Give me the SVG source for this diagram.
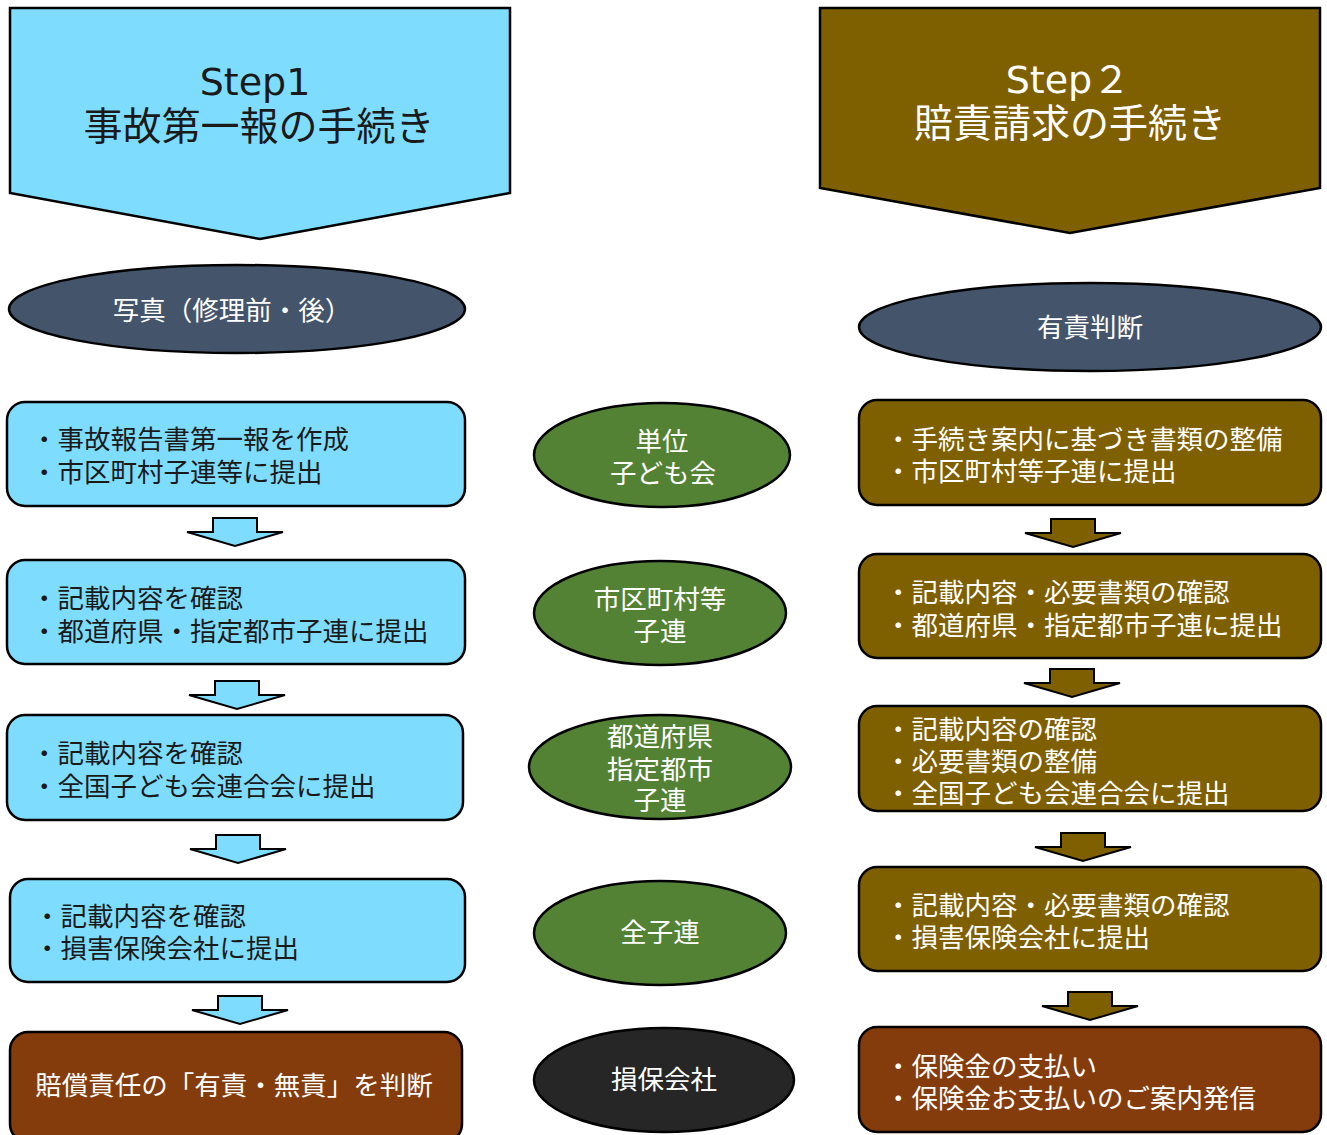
<svg xmlns="http://www.w3.org/2000/svg" xmlns:xlink="http://www.w3.org/1999/xlink" width="1327" height="1135" viewBox="0 0 1327 1135">
<style>
text{font-family:"Noto Sans CJK JP","Noto Sans",sans-serif;}
.hd{font-size:39px;text-anchor:middle;}
.lat{font-family:"DejaVu Sans","Noto Sans CJK JP",sans-serif;font-size:38px;}
.bx{font-size:26.5px;}
.el{font-size:26.5px;fill:#fff;text-anchor:middle;}
.dk{fill:#1a1a1a;}
.wh{fill:#fff;}
.blue{fill:#7EDDFF;stroke:#000;stroke-width:2.5;}
.olive{fill:#7F6000;stroke:#000;stroke-width:2.5;}
.rust{fill:#843C0C;stroke:#000;stroke-width:2.5;}
.green{fill:#548235;stroke:#000;stroke-width:2.5;}
.slate{fill:#44546A;stroke:#000;stroke-width:2.5;}
.blk{fill:#262626;stroke:#000;stroke-width:2.5;}
</style>
<defs>
<polygon id="arr" points="-22,0 22,0 22,14 48,14 0,28 -48,14 -22,14" stroke="#000" stroke-width="2"/>
</defs>
<rect width="1327" height="1135" fill="#fff"/>
<g id="step1">
<polygon class="blue" points="10,8 510,8 510,193 260,239 10,193"/>
<text class="hd lat dk" x="255" y="95">Step1</text>
<text class="hd dk" x="259" y="140">事故第一報の手続き</text>
</g>
<g id="step2">
<polygon class="olive" points="820,8 1320,8 1320,188 1070,233 820,188"/>
<text class="hd lat wh" x="1068" y="93">Step<tspan font-family="Noto Sans CJK JP">２</tspan></text>
<text class="hd wh" x="1070" y="137">賠責請求の手続き</text>
</g>
<g id="photo">
<ellipse class="slate" cx="237" cy="309" rx="228" ry="44"/>
<text class="el" x="232" y="320" font-size="27.5">写真（修理前・後）</text>
</g>
<g id="liability">
<ellipse class="slate" cx="1090" cy="327" rx="231" ry="44"/>
<text class="el" x="1090" y="337">有責判断</text>
</g>
<g id="L1">
<rect class="blue" x="7" y="402" width="458" height="104" rx="18"/>
<text class="bx dk" x="31" y="449">・事故報告書第一報を作成</text>
<text class="bx dk" x="31" y="482">・市区町村子連等に提出</text>
</g>
<g id="L2">
<rect class="blue" x="7" y="560" width="458" height="104" rx="18"/>
<text class="bx dk" x="31" y="608">・記載内容を確認</text>
<text class="bx dk" x="31" y="641">・都道府県・指定都市子連に提出</text>
</g>
<g id="L3">
<rect class="blue" x="7" y="715" width="456" height="105" rx="18"/>
<text class="bx dk" x="31" y="763">・記載内容を確認</text>
<text class="bx dk" x="31" y="796">・全国子ども会連合会に提出</text>
</g>
<g id="L4">
<rect class="blue" x="10" y="879" width="455" height="103" rx="18"/>
<text class="bx dk" x="34" y="926">・記載内容を確認</text>
<text class="bx dk" x="34" y="958">・損害保険会社に提出</text>
</g>
<g id="L5">
<rect class="rust" x="10" y="1032" width="452" height="110" rx="18"/>
<text class="bx wh" x="234" y="1095" text-anchor="middle">賠償責任の「有責・無責」を判断</text>
</g>
<g id="M1">
<ellipse class="green" cx="662" cy="455" rx="128" ry="52"/>
<text class="el" x="662" y="451">単位</text>
<text class="el" x="663" y="483">子ども会</text>
</g>
<g id="M2">
<ellipse class="green" cx="660" cy="613" rx="126" ry="52"/>
<text class="el" x="660" y="609">市区町村等</text>
<text class="el" x="660" y="641">子連</text>
</g>
<g id="M3">
<ellipse class="green" cx="660" cy="767" rx="131" ry="52"/>
<text class="el" x="660" y="746">都道府県</text>
<text class="el" x="660" y="779">指定都市</text>
<text class="el" x="660" y="810">子連</text>
</g>
<g id="M4">
<ellipse class="green" cx="660" cy="933" rx="126" ry="52"/>
<text class="el" x="660" y="942">全子連</text>
</g>
<g id="M5">
<ellipse class="blk" cx="664" cy="1080" rx="130" ry="52"/>
<text class="el" x="664" y="1089">損保会社</text>
</g>
<g id="R1">
<rect class="olive" x="859" y="400" width="462" height="105" rx="18"/>
<text class="bx wh" x="885" y="449">・手続き案内に基づき書類の整備</text>
<text class="bx wh" x="885" y="481">・市区町村等子連に提出</text>
</g>
<g id="R2">
<rect class="olive" x="859" y="554" width="462" height="104" rx="18"/>
<text class="bx wh" x="885" y="602">・記載内容・必要書類の確認</text>
<text class="bx wh" x="885" y="635">・都道府県・指定都市子連に提出</text>
</g>
<g id="R3">
<rect class="olive" x="859" y="706" width="462" height="105" rx="18"/>
<text class="bx wh" x="885" y="739">・記載内容の確認</text>
<text class="bx wh" x="885" y="771">・必要書類の整備</text>
<text class="bx wh" x="885" y="803">・全国子ども会連合会に提出</text>
</g>
<g id="R4">
<rect class="olive" x="859" y="867" width="462" height="104" rx="18"/>
<text class="bx wh" x="885" y="915">・記載内容・必要書類の確認</text>
<text class="bx wh" x="885" y="947">・損害保険会社に提出</text>
</g>
<g id="R5">
<rect class="rust" x="859" y="1027" width="462" height="105" rx="18"/>
<text class="bx wh" x="885" y="1076">・保険金の支払い</text>
<text class="bx wh" x="885" y="1108">・保険金お支払いのご案内発信</text>
</g>
<g id="connectors">
<use xlink:href="#arr" href="#arr" fill="#7EDDFF" transform="translate(235,518)"/>
<use xlink:href="#arr" href="#arr" fill="#7EDDFF" transform="translate(237,681)"/>
<use xlink:href="#arr" href="#arr" fill="#7EDDFF" transform="translate(238,835)"/>
<use xlink:href="#arr" href="#arr" fill="#7EDDFF" transform="translate(240,996)"/>
<use xlink:href="#arr" href="#arr" fill="#7F6000" transform="translate(1073,519)"/>
<use xlink:href="#arr" href="#arr" fill="#7F6000" transform="translate(1072,669)"/>
<use xlink:href="#arr" href="#arr" fill="#7F6000" transform="translate(1083,833)"/>
<use xlink:href="#arr" href="#arr" fill="#7F6000" transform="translate(1090,992)"/>
</g>
</svg>
